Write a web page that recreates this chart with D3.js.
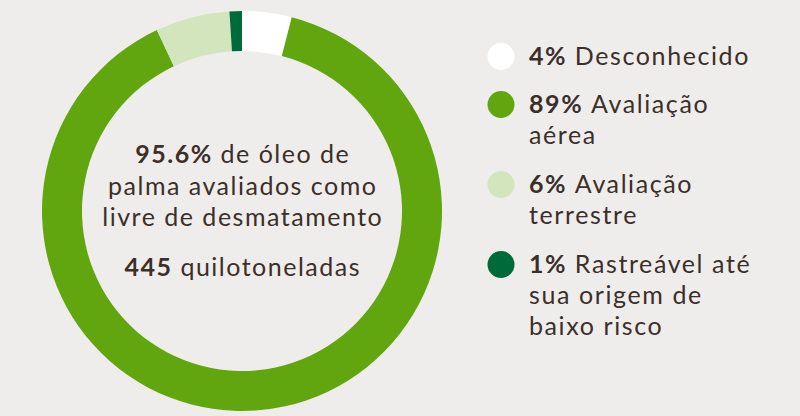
<!DOCTYPE html>
<html><head><meta charset="utf-8">
<script src="https://cdn.jsdelivr.net/npm/d3@7"></script>
<style>
html,body{margin:0;padding:0;background:#efedeb;}
svg{display:block;}
text{font-family:Lato,"Open Sans",sans-serif;fill:#3b2f2a;}
</style></head><body>
<svg id="c" width="800" height="416"></svg>
<script>
const categories = ["Desconhecido", "Avaliação aérea", "Avaliação terrestre", "Rastreável até sua origem de baixo risco"];
const values = [4, 89, 6, 1];
const colors = ["#ffffff", "#62a60f", "#d3e5bd", "#006b3a"];
const legendLines = [["Desconhecido"], ["Avaliação", "aérea"], ["Avaliação", "terrestre"], ["Rastreável até", "sua origem de", "baixo risco"]];
const centerLines = [["95.6%", " de óleo de"], ["", "palma avaliados como"], ["", "livre de desmatamento"]];
const totalLine = ["445", " quilotoneladas"];

const svg = d3.select("#c");
const cx = 242, cy = 211, rOut = 200, rIn = 160;
const pie = d3.pie().sort(null).value(d => d)(values);
const arc = d3.arc().innerRadius(rIn).outerRadius(rOut);
const g = svg.append("g").attr("transform", `translate(${cx},${cy})`);
g.selectAll("path").data(pie).join("path").attr("d", arc).attr("fill", (d, i) => colors[i]);

const fs = 25;
function measure(parts) {
  const t = svg.append("text").style("font-size", fs + "px");
  parts.forEach(p => t.append("tspan").style("font-weight", p.b ? 700 : 400).text(p.t));
  const w = t.node().getComputedTextLength();
  t.remove();
  return w;
}
const sC = "livre de desmatamento", sL = "4% Desconhecido";
const lsC = (281 - measure([{t: sC}])) / sC.length;
const lsL = (221 - measure([{t: "4% ", b: 1}, {t: "Desconhecido"}])) / sL.length;

const ct = g.append("g").style("letter-spacing", lsC + "px");
centerLines.forEach((l, i) => {
  const t = ct.append("text").attr("text-anchor", "middle").attr("x", lsC / 2).attr("y", -48 + i * 31.5).style("font-size", fs + "px");
  if (l[0]) t.append("tspan").style("font-weight", 700).text(l[0]);
  t.append("tspan").text(l[1]);
});
const tt = ct.append("text").attr("text-anchor", "middle").attr("x", lsC / 2).attr("y", 65).style("font-size", fs + "px");
tt.append("tspan").style("font-weight", 700).text(totalLine[0]);
tt.append("tspan").text(totalLine[1]);

const rowY = [65, 113, 193, 273];
const lg = svg.append("g").style("letter-spacing", lsL + "px");
values.forEach((v, i) => {
  lg.append("circle").attr("cx", 501).attr("cy", rowY[i] - 8.5).attr("r", 13.5).attr("fill", colors[i]);
  legendLines[i].forEach((line, j) => {
    const t = lg.append("text").attr("x", 529).attr("y", rowY[i] + j * 31).style("font-size", fs + "px");
    if (j === 0) t.append("tspan").style("font-weight", 700).text(v + "% ");
    t.append("tspan").text(line);
  });
});
</script>
</body></html>
